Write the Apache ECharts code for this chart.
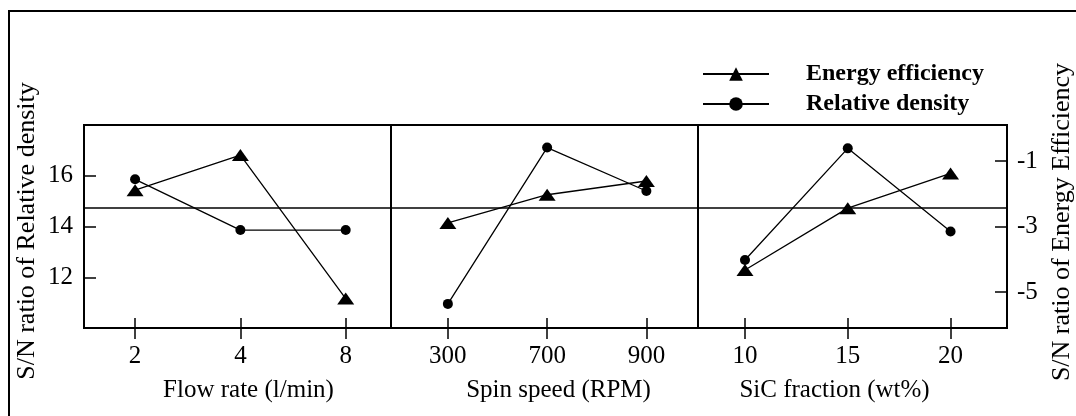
<!DOCTYPE html>
<html><head><meta charset="utf-8">
<script src="https://cdn.jsdelivr.net/npm/echarts@6/dist/echarts.min.js"></script>
<style>html,body{margin:0;padding:0;background:#fff}#c{width:1076px;height:416px}</style>
</head><body><div id="c"></div>
<script>
const flowRate = ['2', '4', '8'];
const spinSpeed = ['300', '700', '900'];
const sicFraction = ['10', '15', '20'];
const densityFlow = [15.86, 13.86, 13.86];
const energyFlow = [-1.89, -0.82, -5.2];
const densitySpin = [10.95, 17.11, 15.4];
const energySpin = [-2.89, -2.03, -1.61];
const densitySic = [12.68, 17.08, 13.8];
const energySic = [-4.33, -2.44, -1.38];
const densityMean = 14.72;
const leftTicks = [12, 14, 16];
const rightTicks = [-5, -3, -1];
const xNames = ['Flow rate (l/min)', 'Spin speed (RPM)', 'SiC fraction (wt%)'];
const seriesNames = ['Energy efficiency', 'Relative density'];
const leftTitle = 'S/N ratio of Relative density';
const rightTitle = 'S/N ratio of Energy Efficiency';

const FONT = '"Liberation Serif", "Times New Roman", serif';
const cats = [flowRate, spinSpeed, sicFraction];
const dens = [densityFlow, densitySpin, densitySic];
const ener = [energyFlow, energySpin, energySic];
const gridDefs = [
  {left: 84, top: 125, width: 307, height: 203},
  {left: 391, top: 125, width: 307, height: 203},
  {left: 698, top: 125, width: 309, height: 203}
];
// axis extents (level index scale) per panel
const xExtent = [[-0.485, 2.43], [-0.573, 2.52], [-0.457, 2.549]];
const xNamePad = [[0, 0, 0, 22], [0, 0, 0, 28], [0, 36, 0, 0]];

const grid = [], xAxis = [], yAxis = [], series = [];
for (let i = 0; i < 3; i++) {
  const idx = cats[i].map((c, k) => k);
  grid.push(Object.assign({show: true, borderColor: '#000', borderWidth: 2, backgroundColor: 'transparent'}, gridDefs[i]));
  xAxis.push({
    type: 'value', gridIndex: i, position: 'bottom', min: xExtent[i][0], max: xExtent[i][1],
    axisLine: {show: true, onZero: false, lineStyle: {color: '#000', width: 1.5}},
    axisTick: {show: true, length: 11, customValues: idx, lineStyle: {color: '#000', width: 1.5}},
    axisLabel: {show: true, customValues: idx, margin: 16, fontSize: 25, color: '#000', fontFamily: FONT,
      formatter: (v) => cats[i][Math.round(v)]},
    splitLine: {show: false},
    name: xNames[i], nameLocation: 'middle', nameGap: 50,
    nameTextStyle: {fontSize: 25, color: '#000', fontFamily: FONT, padding: xNamePad[i]}
  });
  xAxis.push({
    type: 'value', gridIndex: i, position: 'bottom', min: xExtent[i][0], max: xExtent[i][1],
    axisLine: {show: true, onZero: false, lineStyle: {color: '#000', width: 1.5}},
    axisTick: {show: true, inside: true, length: 10, customValues: idx, lineStyle: {color: '#000', width: 1.5}},
    axisLabel: {show: false}, splitLine: {show: false}
  });
  yAxis.push({
    type: 'value', gridIndex: i, min: 10, max: 18, position: 'left',
    axisLine: {show: false, onZero: false}, splitLine: {show: false},
    axisTick: {show: i === 0, inside: true, length: 12, customValues: leftTicks, lineStyle: {color: '#000', width: 1.5}},
    axisLabel: {show: i === 0, customValues: leftTicks, margin: 11, fontSize: 25, color: '#000', fontFamily: FONT}
  });
  yAxis.push({
    type: 'value', gridIndex: i, min: -6.1, max: 0.1, position: 'right',
    axisLine: {show: false, onZero: false}, splitLine: {show: false},
    axisTick: {show: i === 2, inside: true, length: 12, customValues: rightTicks, lineStyle: {color: '#000', width: 1.5}},
    axisLabel: {show: i === 2, customValues: rightTicks, margin: 10, fontSize: 25, color: '#000', fontFamily: FONT}
  });
  series.push({
    name: seriesNames[0], type: 'line', xAxisIndex: 2 * i, yAxisIndex: 2 * i + 1,
    data: ener[i].map((v, k) => [idx[k], v]),
    symbol: 'triangle', symbolSize: [17, 12], showSymbol: true,
    lineStyle: {color: '#000', width: 1.3}, itemStyle: {color: '#000'}
  });
  series.push({
    name: seriesNames[1], type: 'line', xAxisIndex: 2 * i, yAxisIndex: 2 * i,
    data: dens[i].map((v, k) => [idx[k], v]),
    symbol: 'circle', symbolSize: 10, showSymbol: true,
    lineStyle: {color: '#000', width: 1.3}, itemStyle: {color: '#000'},
    markLine: {silent: true, symbol: 'none', label: {show: false}, animation: false,
      lineStyle: {color: '#000', type: 'solid', width: 1.5}, data: [{yAxis: densityMean}]}
  });
}

const chart = echarts.init(document.getElementById('c'), null, {renderer: 'canvas'});
chart.setOption({
  animation: false,
  backgroundColor: '#fff',
  grid, xAxis, yAxis, series,
  legend: {
    left: 702, top: 62, orient: 'vertical', itemWidth: 66, itemHeight: 17, itemGap: 6, padding: 0,
    selectedMode: false, data: seriesNames,
    textStyle: {fontFamily: FONT, fontSize: 24, fontWeight: 'bold', color: '#000', lineHeight: 24, padding: [0, 0, 0, 32]}
  },
  graphic: [
    {type: 'rect', silent: true, z: -1, shape: {x: 9, y: 11, width: 1200, height: 600},
      style: {fill: 'none', stroke: '#000', lineWidth: 2}},
    {type: 'text', silent: true, x: 27, y: 231, rotation: Math.PI / 2,
      style: {text: leftTitle, font: '26px ' + FONT, fill: '#000', align: 'center', verticalAlign: 'middle', textAlign: 'center', textVerticalAlign: 'middle'}},
    {type: 'text', silent: true, x: 1062, y: 222, rotation: Math.PI / 2,
      style: {text: rightTitle, font: '26px ' + FONT, fill: '#000', align: 'center', verticalAlign: 'middle', textAlign: 'center', textVerticalAlign: 'middle'}}
  ]
});
</script></body></html>
